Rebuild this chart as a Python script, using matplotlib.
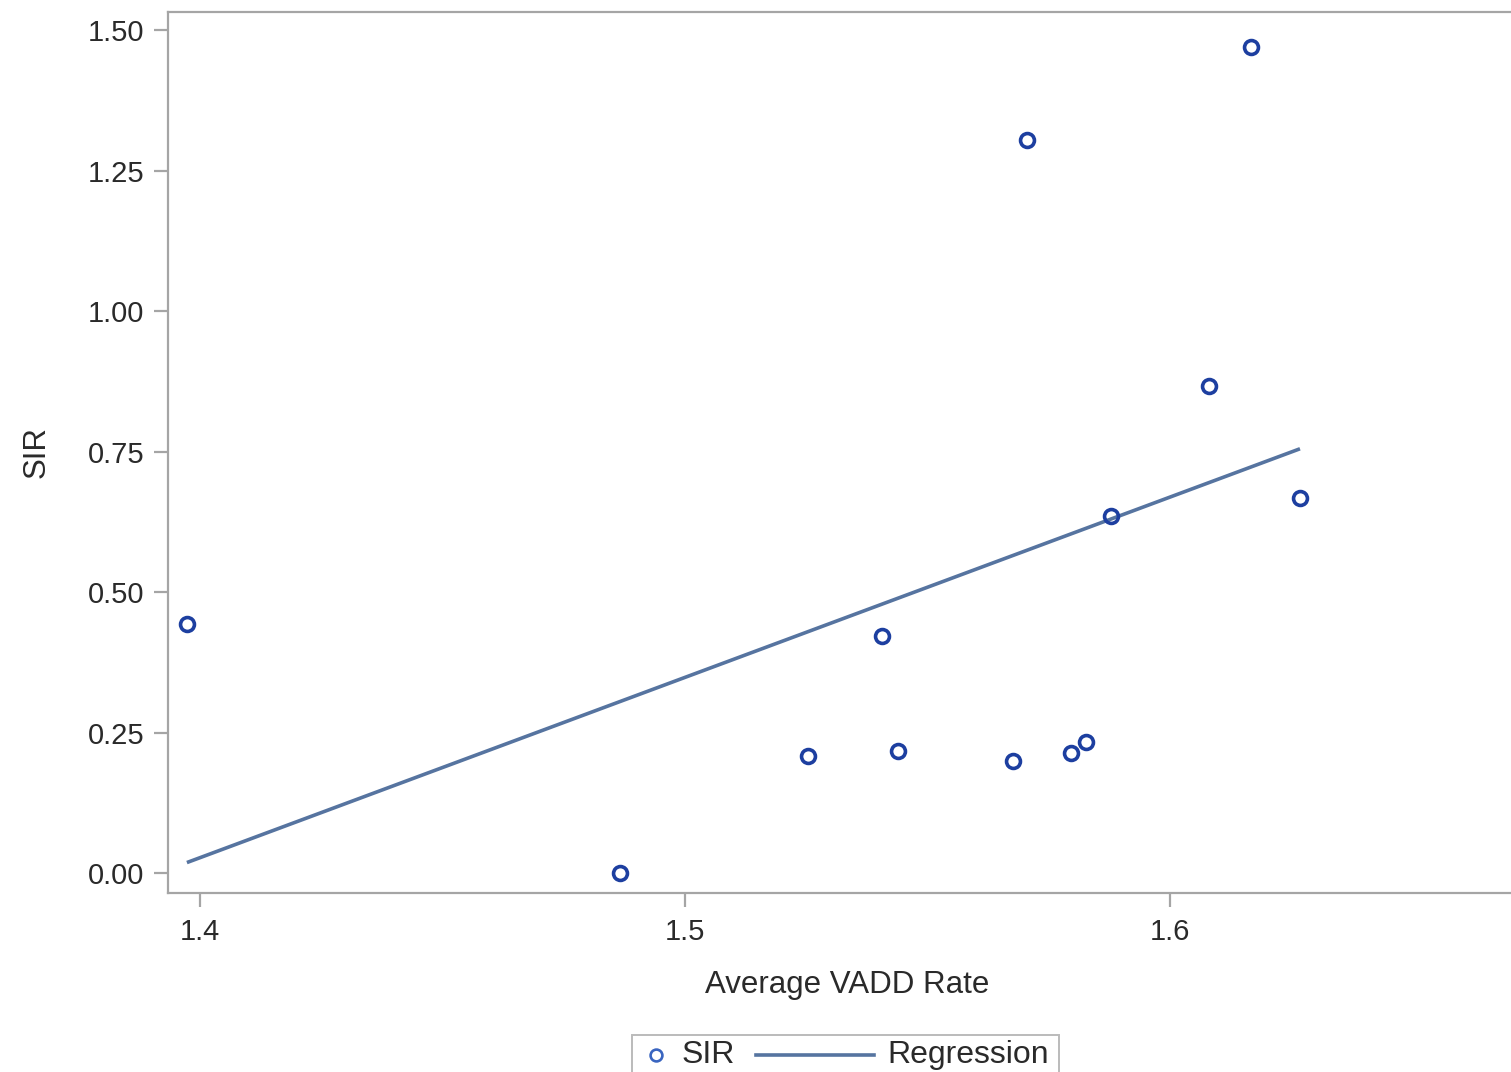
import numpy as np
import matplotlib
matplotlib.use("Agg")
import matplotlib.pyplot as plt
from matplotlib.lines import Line2D
from matplotlib.offsetbox import DrawingArea, TextArea, HPacker, AnchoredOffsetbox

vadd_rate = [1.3973, 1.4866, 1.5254, 1.5406, 1.5439, 1.5676, 1.5705,
             1.5796, 1.5827, 1.5878, 1.6080, 1.6167, 1.6268]
sir = [0.443, 0.0, 0.208, 0.422, 0.217, 0.199, 1.304,
       0.2135, 0.233, 0.635, 0.8665, 1.470, 0.667]
x_ticks = [1.4, 1.5, 1.6]
x_tick_labels = ["1.4", "1.5", "1.6"]
y_ticks = [0.0, 0.25, 0.5, 0.75, 1.0, 1.25, 1.5]
y_tick_labels = ["0.00", "0.25", "0.50", "0.75", "1.00", "1.25", "1.50"]
legend_labels = ["SIR", "Regression"]

plt.rcParams['font.family'] = ['Liberation Sans', 'DejaVu Sans']

W, H = 1511, 1072
fig = plt.figure(figsize=(W/100, H/100), dpi=100)
ax_right = 1.01
ax = fig.add_axes([168/W, 1-893/H, ax_right - 168/W, (893-12)/H])

x = np.array(vadd_rate)
y = np.array(sir)
slope, intercept = np.polyfit(x, y, 1)
xl = np.array([x.min(), x.max()])
line_c = '#5674a0'
mark_c = '#1d3fa0'
ax.plot(xl, slope*xl + intercept, color=line_c, lw=2.6, solid_capstyle='butt', zorder=2)
ax.plot(x, y, linestyle='none', marker='o', markersize=10, markerfacecolor='none',
        markeredgecolor=mark_c, markeredgewidth=2.6, zorder=3)

ax.set_xlim(1.4 - 32/4850, 1.4 + (ax_right*W - 200)/4850)
ax.set_ylim(-20/562, 1.5 + 18/562)
ax.set_xticks(x_ticks)
ax.set_xticklabels(x_tick_labels)
ax.set_yticks(y_ticks)
ax.set_yticklabels(y_tick_labels)

spine_c = '#a5a5a5'
txt_c = '#2a2a2a'
for s in ax.spines.values():
    s.set_color(spine_c)
    s.set_linewidth(1.6)
ax.tick_params(axis='both', direction='out', length=10, width=1.6, color=spine_c,
               labelsize=21, labelcolor=txt_c)
ax.tick_params(axis='y', pad=7)
ax.tick_params(axis='x', pad=8)

ax.set_xlabel("Average VADD Rate", fontsize=22.5, color=txt_c, labelpad=17)
ax.set_ylabel("SIR", fontsize=22.5, color=txt_c, labelpad=26)

# manual legend (pixel sizes converted to points)
pt = 72/100
bh = 40 * pt
da_m = DrawingArea(50*pt, bh, 0, 0)
da_m.add_artist(Line2D([24*pt], [bh/2], linestyle='none', marker='o', markersize=8.5,
                       markerfacecolor='none', markeredgecolor='#3a65c0', markeredgewidth=1.9))
ta1 = TextArea(legend_labels[0], textprops=dict(fontsize=23, color=txt_c))
da_l = DrawingArea(152*pt, bh, 0, 0)
da_l.add_artist(Line2D([21*pt, 139*pt], [bh/2, bh/2], color=line_c, lw=2.6))
ta2 = TextArea(legend_labels[1], textprops=dict(fontsize=23, color=txt_c))
da_e = DrawingArea(10*pt, bh, 0, 0)
pack = HPacker(children=[da_m, ta1, da_l, ta2, da_e], align='center', pad=0, sep=0)
anch = AnchoredOffsetbox(loc='upper left', child=pack, pad=0, borderpad=0, frameon=True,
                         bbox_to_anchor=(632/W, 1-1035/H), bbox_transform=fig.transFigure)
anch.patch.set_edgecolor('#bbbbbb')
anch.patch.set_linewidth(1.4)
anch.patch.set_boxstyle('square', pad=0)
fig.add_artist(anch)

fig.savefig("out.png", dpi=100)
